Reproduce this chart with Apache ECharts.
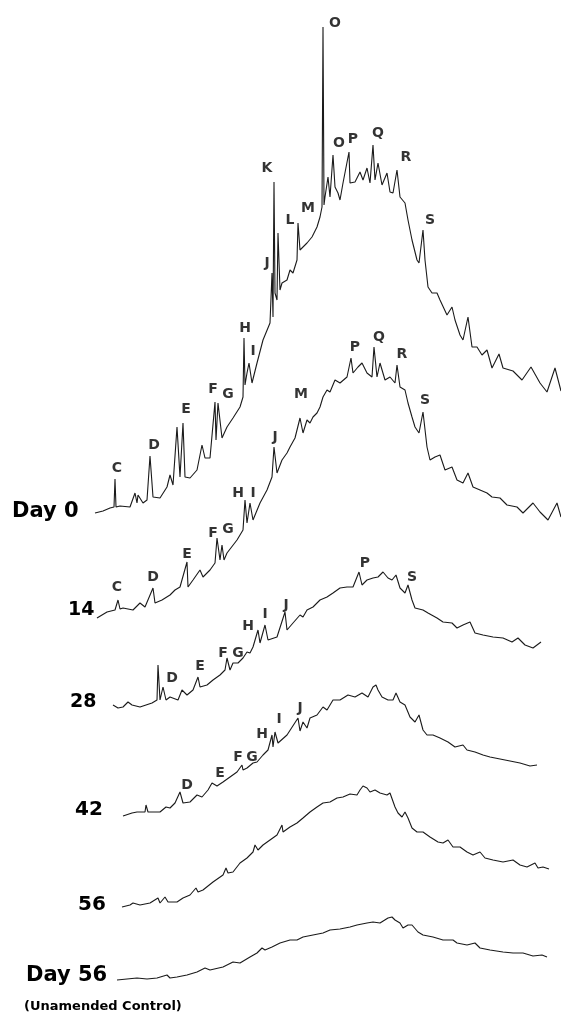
<!DOCTYPE html>
<html>
<head>
<meta charset="utf-8">
<script src="https://cdn.jsdelivr.net/npm/echarts@6/dist/echarts.min.js"></script>
<style>
html,body{margin:0;padding:0;background:#fff;}
#chart{width:561px;height:1019px;}
</style>
</head>
<body>
<div id="chart"></div>
<script>
// Retention position (arbitrary units) and detector response above each trace's start
const day0 = [[95,0],[103,2],[110,5],[114,6],[115,34],[116,6],[120,7],[130,6],[135,20],[137,10],[138,18],[143,10],[147,13],[150,57],[153,16],[160,15],[167,26],[170,38],[173,28],[177,86],[180,36],[183,90],[185,36],[190,35],[197,43],[202,68],[205,55],[210,55],[215,111],[216,73],[218,110],[222,75],[227,86],[233,95],[240,106],[243,116],[244,175],[245,128],[247,140],[249,150],[252,130],[257,150],[263,173],[270,190],[272,240],[273,196],[274,331],[275,220],[277,213],[278,280],[280,223],[282,230],[287,233],[290,243],[293,240],[297,253],[298,290],[300,263],[307,270],[312,276],[317,286],[320,296],[322,306],[323,486],[324,308],[325,316],[328,336],[330,316],[333,358],[335,326],[338,320],[340,313],[343,330],[349,361],[350,330],[355,331],[360,341],[363,333],[367,345],[370,330],[373,368],[375,333],[378,350],[382,328],[387,340],[390,321],[393,320],[397,343],[400,316],[405,310],[408,293],[412,273],[417,253],[419,250],[423,283],[425,253],[428,226],[432,220],[437,220],[440,213],[447,198],[452,206],[455,193],[460,178],[463,173],[468,196],[472,166],[477,166],[482,158],[487,163],[492,145],[499,159],[503,145],[513,142],[522,133],[531,146],[540,130],[547,121],[555,145],[561,122]];

const day14 = [[97,0],[107,6],[115,8],[118,18],[120,9],[123,10],[133,8],[140,15],[145,11],[153,30],[155,15],[162,18],[170,23],[175,28],[180,31],[187,56],[188,31],[193,38],[200,48],[203,41],[210,48],[215,55],[217,80],[220,58],[222,73],[224,58],[227,65],[237,78],[243,88],[245,118],[247,95],[250,115],[253,98],[260,115],[267,128],[272,141],[274,171],[277,145],[282,158],[287,165],[290,171],[295,180],[300,200],[303,185],[307,198],[310,195],[313,201],[317,205],[320,211],[323,221],[325,221],[327,228],[330,226],[335,238],[340,235],[347,241],[351,260],[353,245],[358,251],[362,255],[367,245],[372,241],[374,271],[377,241],[380,255],[385,238],[390,241],[395,235],[397,253],[400,231],[405,228],[408,215],[412,201],[415,191],[419,185],[423,206],[427,171],[430,158],[435,161],[440,163],[445,148],[452,151],[457,138],[463,135],[468,145],[473,131],[480,128],[487,125],[492,121],[500,120],[507,113],[517,111],[523,105],[533,115],[540,106],[548,98],[557,115],[561,101]];

const day28 = [[113,0],[118,-3],[123,-2],[128,3],[132,0],[140,-2],[152,2],[157,5],[158,40],[160,5],[163,18],[166,5],[170,8],[178,5],[182,15],[187,10],[193,15],[198,28],[200,18],[207,20],[213,25],[220,30],[225,35],[227,47],[230,35],[233,42],[238,42],[243,47],[247,53],[250,52],[253,58],[258,75],[260,62],[265,80],[268,65],[277,68],[285,93],[287,75],[293,82],[300,90],[303,88],[307,95],[313,98],[320,105],[327,108],[333,112],[340,117],[347,118],[353,118],[359,133],[362,120],[367,125],[373,127],[378,128],[383,133],[388,127],[392,125],[396,130],[400,117],[405,112],[408,120],[412,105],[415,97],[423,95],[428,92],[437,87],[443,83],[452,82],[457,77],[463,80],[470,83],[475,72],[483,70],[493,68],[503,67],[512,63],[518,67],[525,60],[533,57],[541,63]];

const day42 = [[123,0],[132,3],[137,4],[145,4],[146,11],[148,4],[160,4],[166,9],[170,8],[175,13],[180,24],[183,13],[190,14],[197,21],[202,19],[208,26],[212,33],[217,30],[223,34],[230,39],[237,44],[242,51],[243,46],[247,48],[253,53],[257,54],[263,61],[268,66],[272,81],[273,69],[275,84],[278,73],[287,81],[298,98],[300,85],[303,94],[307,88],[310,98],[317,101],[323,109],[327,106],[333,116],[340,116],[348,121],[355,119],[362,123],[368,119],[373,129],[376,131],[378,126],[382,119],[388,116],[393,116],[396,123],[400,114],[405,111],[410,99],[415,94],[419,101],[423,86],[427,81],[433,81],[440,78],[448,74],[455,69],[463,71],[467,66],[475,64],[483,61],[490,59],[500,57],[510,55],[520,53],[530,50],[537,51]];

const day56 = [[122,0],[130,2],[133,4],[140,2],[150,4],[158,9],[160,4],[165,10],[168,5],[177,5],[183,9],[190,12],[196,19],[198,15],[203,17],[213,25],[223,32],[226,39],[228,34],[233,35],[240,44],[247,49],[253,55],[255,62],[258,57],[263,62],[270,67],[277,72],[282,82],[283,75],[290,80],[297,84],[303,89],[310,95],[317,100],[323,104],[330,105],[337,109],[343,110],[350,113],[357,112],[360,117],[363,121],[367,119],[370,115],[375,117],[380,114],[387,112],[390,114],[392,112],[395,100],[398,94],[402,90],[405,95],[408,89],[412,79],[417,75],[423,75],[430,70],[438,65],[443,64],[448,67],[453,60],[460,60],[467,55],[473,52],[480,55],[485,49],[493,47],[503,45],[513,47],[520,42],[527,40],[535,44],[538,39],[543,40],[549,38]];

const control56 = [[117,0],[127,1],[137,2],[147,1],[157,2],[167,5],[170,2],[177,3],[187,5],[197,8],[205,12],[210,10],[223,13],[233,18],[240,17],[250,23],[257,27],[262,32],[265,30],[272,33],[280,37],[290,40],[297,40],[303,43],[313,45],[323,47],[330,50],[340,51],[350,53],[357,55],[367,57],[373,58],[380,57],[388,62],[392,63],[395,60],[400,57],[403,52],[408,55],[412,55],[418,48],[423,45],[433,43],[443,40],[453,40],[457,37],[467,35],[475,37],[480,32],[490,30],[503,28],[513,27],[523,27],[533,24],[542,25],[547,23]];

const traces = [day0, day14, day28, day42, day56, control56];
const traceNames = ['Day 0', '14', '28', '42', '56', 'Day 56'];
const traceOffsets = [506, 401, 314, 203, 112, 39];

// Peak letters: [letter, retention, response of the letter] per trace
const peaks0 = [['C',117,45],['D',154,68],['E',186,104],['F',213,124],['G',228,119],['H',245,185],['I',253,162],['J',267,250],['K',267,345],['L',290,293],['M',308,305],['O',335,490],['O',339,370],['P',353,374],['Q',378,380],['R',406,356],['S',430,293]];
const peaks14 = [['C',117,31],['D',153,41],['E',187,64],['F',213,85],['G',228,89],['H',238,125],['I',253,125],['J',275,181],['M',301,224],['P',355,271],['Q',379,281],['R',402,264],['S',425,218]];
const peaks28 = [['D',172,27],['E',200,39],['F',223,52],['G',238,52],['H',248,79],['I',265,91],['J',286,100],['P',365,142],['S',412,128]];
const peaks42 = [['D',187,31],['E',220,43],['F',238,59],['G',252,59],['H',262,82],['I',279,97],['J',300,108]];
const peakSets = [peaks0, peaks14, peaks28, peaks42];

const chart = echarts.init(document.getElementById('chart'), null, {renderer: 'canvas'});

const series = traces.map((t, i) => ({
  type: 'line',
  name: traceNames[i],
  data: t.map(p => [p[0], p[1] + traceOffsets[i]]),
  showSymbol: false,
  symbol: 'none',
  silent: true,
  lineStyle: {color: '#1a1a1a', width: 1.1},
  z: 2
}));

const labelData = [];
peakSets.forEach((set, i) => {
  set.forEach(p => labelData.push({name: p[0], value: [p[1], p[2] + traceOffsets[i]]}));
});
series.push({
  type: 'scatter',
  data: labelData,
  symbolSize: 0,
  silent: true,
  label: {
    show: true, position: 'inside', formatter: '{b}',
    color: '#000', fontFamily: 'DejaVu Sans', fontWeight: 'bold', fontSize: 14
  },
  z: 3
});

const nameStyle = (txt, x, y, size) => ({
  type: 'text', left: x, top: y,
  style: {text: txt, fill: '#000', font: 'bold ' + size + 'px "DejaVu Sans"'}
});

chart.setOption({
  animation: false,
  backgroundColor: '#fff',
  grid: {left: 0, right: 0, top: 0, bottom: 0},
  xAxis: {type: 'value', min: 0, max: 561, show: false},
  yAxis: {type: 'value', min: 0, max: 1019, show: false},
  graphic: [
    nameStyle('Day 0', 12, 501, 21),
    nameStyle('14', 68, 601, 19),
    nameStyle('28', 70, 693, 19),
    nameStyle('42', 75, 800, 20),
    nameStyle('56', 78, 895, 20),
    nameStyle('Day 56', 26, 965, 21),
    nameStyle('(Unamended Control)', 24, 1000, 13)
  ],
  series: series
});
</script>
</body>
</html>
